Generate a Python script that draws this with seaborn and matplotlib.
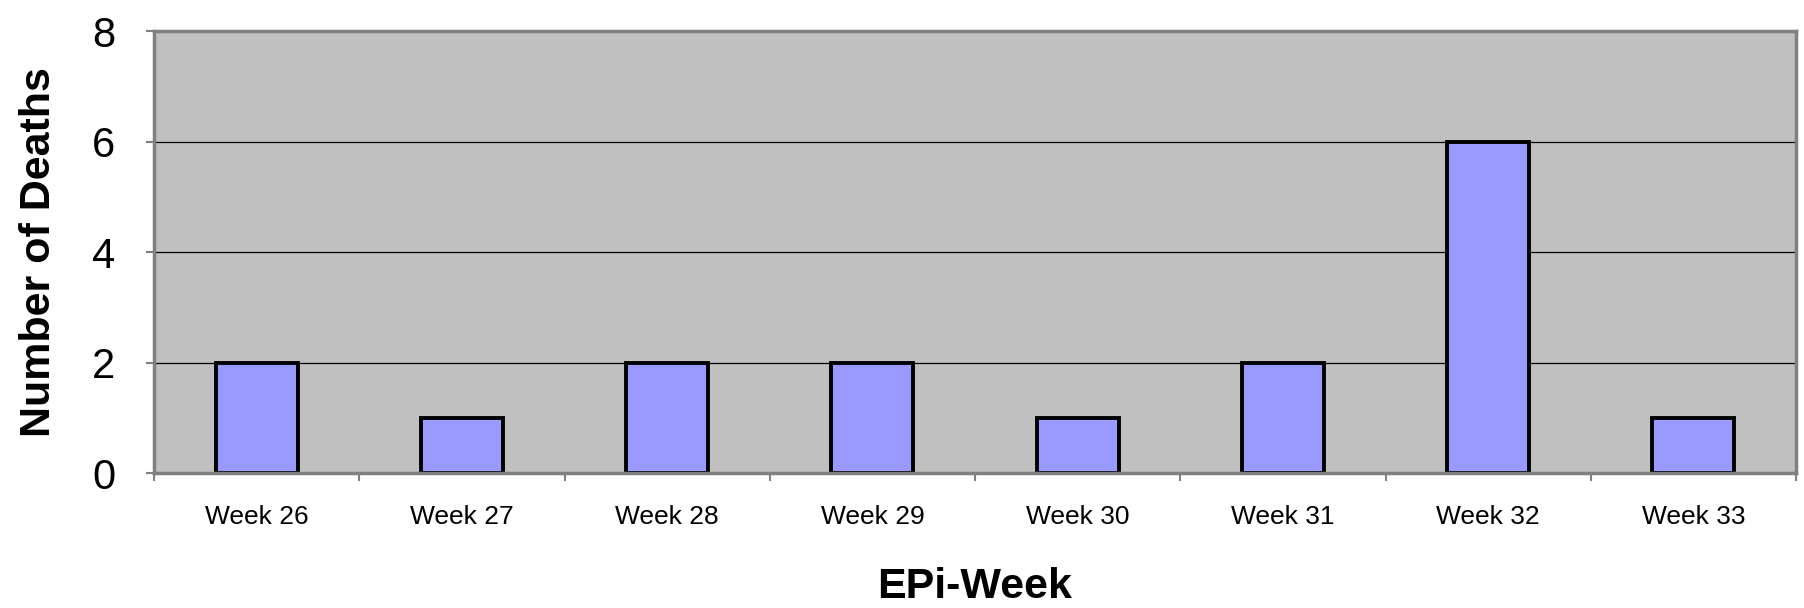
import numpy as np
import pandas as pd
import matplotlib
matplotlib.use("Agg")
import matplotlib.pyplot as plt
import seaborn as sns
from matplotlib.ticker import FixedLocator

weeks = ["Week 26", "Week 27", "Week 28", "Week 29", "Week 30", "Week 31", "Week 32", "Week 33"]
deaths = [2, 1, 2, 2, 1, 2, 6, 1]

df = pd.DataFrame({"week": weeks, "deaths": deaths})

sns.set_style("white")
plt.rcParams["font.family"] = ["Liberation Sans", "DejaVu Sans"]
plt.rcParams["text.color"] = "black"
plt.rcParams["axes.labelcolor"] = "black"
plt.rcParams["xtick.labelcolor"] = "black"
plt.rcParams["ytick.labelcolor"] = "black"

fig, ax = plt.subplots(figsize=(18.04, 6.08), dpi=100)
fig.subplots_adjust(left=0.0854, right=0.9956, top=0.949, bottom=0.222)
ax.set_facecolor("#C0C0C0")

sns.barplot(data=df, x="week", y="deaths", color="#9999FF", saturation=1,
            width=0.4, edgecolor="black", linewidth=2.8, ax=ax)

ax.set_ylim(0, 8)
ax.set_xlim(-0.5, len(weeks) - 0.5)
ax.set_yticks([0, 2, 4, 6, 8])
ax.yaxis.grid(True, color="black", linewidth=0.9)
ax.set_axisbelow(True)

for s in ax.spines.values():
    s.set_color("#808080")
    s.set_linewidth(2.5)

ax.tick_params(axis="y", labelsize=30, length=6, width=1.5, color="#808080", pad=22, left=True)
ax.tick_params(axis="x", which="major", labelsize=19, length=0, pad=23)
ax.xaxis.set_minor_locator(FixedLocator(np.arange(-0.5, len(weeks), 1)))
ax.tick_params(axis="x", which="minor", length=6, width=1.5, color="#808080", bottom=True)

ax.set_ylabel("Number of Deaths", fontsize=31, fontweight="bold")
ax.set_xlabel("EPi-Week", fontsize=31, fontweight="bold")
ax.yaxis.set_label_coords(-0.058, 0.5)
ax.xaxis.set_label_coords(0.5, -0.212)

fig.savefig("out.png", dpi=100, facecolor="white")
